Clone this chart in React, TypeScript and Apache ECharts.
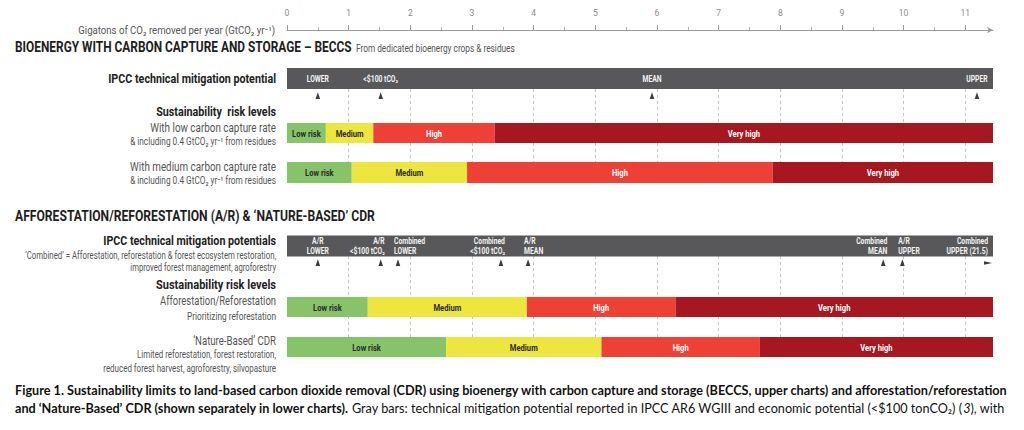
import React, { useEffect, useRef } from "react";
import * as echarts from "echarts";

// ---------------- DATA ----------------
const axisMax = 11.45; // GtCO2 / yr shown on the axis
const majorTicks = [0, 1, 2, 3, 4, 5, 6, 7, 8, 9, 10, 11];
const minorTicks = [0.5, 1.5, 2.5, 3.5, 4.5, 5.5, 6.5, 7.5, 8.5, 9.5, 10.5];

const riskLevels = ["Low risk", "Medium", "High", "Very high"];
// upper bound of Low / Medium / High (Very high runs to the end of the axis)
const beccsLowCapture = [0.63, 1.4, 3.37];
const beccsMediumCapture = [1.05, 2.92, 7.88];
const arReforestation = [1.31, 3.89, 6.3];
const natureBasedCdr = [2.58, 5.1, 7.67];

const beccsMarkerValues = [0.5, 1.52, 5.92, 11.19];
const beccsMarkerLabels = ["LOWER", "<$100 tCO₂", "MEAN", "UPPER"];
const beccsMarkerAlign = ["center", "center", "center", "center"];

const arMarkerValues = [0.5, 1.52, 1.8, 3.47, 3.91, 9.67, 9.98, 21.5];
const arMarkerLabels = [
  "A/R\nLOWER",
  "A/R\n<$100 tCO₂",
  "Combined\nLOWER",
  "Combined\n<$100 tCO₂",
  "A/R\nMEAN",
  "Combined\nMEAN",
  "A/R\nUPPER",
  "Combined\nUPPER (21.5)",
];
const arMarkerAlign = ["center", "right", "left", "right", "left", "right", "left", "right"];

// ---------------- STYLE / LAYOUT ----------------
const FONT = "Roboto";
const CAPTION_FONT = "Lato";
const riskColors = ["#87c469", "#ede63f", "#ef4036", "#a6171f"];
const riskTextColors = ["#2a2a2a", "#2a2a2a", "#ffffff", "#ffffff"];
const GRAY = "#58585a";

const X0 = 287;
const X1 = 993;
const grayBarTops = [68, 235.5];
const grayBarHeights = [21, 21];
const grayLabelY = [79, 246.5];
const markerYs = [96, 263];
const riskRowTops = [123, 162, 297, 337];
const riskRowHeights = [20, 21, 20, 20];

let measureCtx: CanvasRenderingContext2D | null = null;
function measure(text: string, size: number, weight: string, family: string, style = "normal") {
  if (!measureCtx) measureCtx = document.createElement("canvas").getContext("2d");
  const ctx = measureCtx!;
  ctx.font = `${style} ${weight} ${size}px ${family}`;
  return ctx.measureText(text).width;
}

function fitText(
  text: string,
  left: number,
  right: number,
  y: number,
  size: number,
  weight: string,
  color: string,
  align: "left" | "right"
) {
  const w = measure(text, size, weight, FONT);
  const s = (right - left) / w;
  return {
    type: "text",
    x: align === "right" ? right : left,
    y,
    scaleX: s,
    silent: true,
    style: {
      text,
      fill: color,
      fontSize: size,
      fontWeight: weight,
      fontFamily: FONT,
      align,
      textAlign: align,
      verticalAlign: "middle",
      textVerticalAlign: "middle",
    },
  };
}

function buildRows() {
  const rows = [beccsLowCapture, beccsMediumCapture, arReforestation, natureBasedCdr];
  const data: number[][] = [];
  rows.forEach((bounds, r) => {
    const edges = [0, ...bounds, axisMax];
    for (let i = 0; i < 4; i++) data.push([edges[i], edges[i + 1], r, i]);
  });
  return data;
}

export default function App() {
  const ref = useRef<HTMLDivElement>(null);
  useEffect(() => {
    if (!ref.current) return;
    const chart = echarts.init(ref.current, undefined, { renderer: "svg" });

    const hiddenAxis = (gi: number) => ({
      gridIndex: gi,
      type: "value",
      min: 0,
      max: axisMax,
      interval: 1,
      axisLine: { show: false, onZero: false },
      axisTick: { show: false },
      axisLabel: { show: false },
      splitLine: {
        show: true,
        showMinLine: false,
        showMaxLine: false,
        lineStyle: { type: [3, 3], color: "#c4c4c4", width: 1 },
      },
    });

    const markerGroups = [
      { values: beccsMarkerValues, labels: beccsMarkerLabels, align: beccsMarkerAlign },
      { values: arMarkerValues, labels: arMarkerLabels, align: arMarkerAlign },
    ];
    const markerData: number[][] = [];
    markerGroups.forEach((g, gi) => g.values.forEach((v, i) => markerData.push([v, 0, gi, i])));

    const leftTexts = [
      fitText("Gigatons of CO₂ removed per year (GtCO₂ yr⁻¹)", 78, 275, 30, 10, "normal", "#555", "right"),
      fitText("IPCC technical mitigation potential", 108, 276, 79, 12.5, "bold", "#222", "right"),
      fitText("Sustainability  risk levels", 156, 276, 112, 12.5, "bold", "#222", "right"),
      fitText("With low carbon capture rate", 150, 276, 128, 12.5, "normal", "#555", "right"),
      fitText("& including 0.4 GtCO₂ yr⁻¹ from residues", 130, 276, 142, 10, "normal", "#555", "right"),
      fitText("With medium carbon capture rate", 130, 276, 167, 12.5, "normal", "#555", "right"),
      fitText("& including 0.4 GtCO₂ yr⁻¹ from residues", 130, 276, 181, 10, "normal", "#555", "right"),
      fitText("IPCC technical mitigation potentials", 103, 276, 241, 12.5, "bold", "#222", "right"),
      fitText("‘Combined’ = Afforestation, reforestation & forest ecosystem restoration,", 25, 276, 256, 10, "normal", "#555", "right"),
      fitText("improved forest management, agroforestry", 130, 276, 268, 10, "normal", "#555", "right"),
      fitText("Sustainability risk levels", 156, 276, 285, 12.5, "bold", "#222", "right"),
      fitText("Afforestation/Reforestation", 160, 276, 301, 12.5, "normal", "#555", "right"),
      fitText("Prioritizing reforestation", 187, 276, 316, 10, "normal", "#555", "right"),
      fitText("‘Nature-Based’ CDR", 193, 276, 341, 12.5, "normal", "#555", "right"),
      fitText("Limited reforestation, forest restoration,", 137, 276, 355, 10, "normal", "#555", "right"),
      fitText("reduced forest harvest, agroforestry, silvopasture", 103, 276, 369, 10, "normal", "#555", "right"),
      fitText("BIOENERGY WITH CARBON CAPTURE AND STORAGE – BECCS", 15, 352, 47, 14, "bold", "#1e1e1e", "left"),
      fitText("From dedicated bioenergy crops & residues", 356, 515, 48, 10.5, "normal", "#555", "left"),
      fitText("AFFORESTATION/REFORESTATION (A/R) & ‘NATURE-BASED’ CDR", 15, 375, 216, 14, "bold", "#1e1e1e", "left"),
    ];

    // caption
    const capSize = 13;
    const cap1 =
      "Figure 1. Sustainability limits to land-based carbon dioxide removal (CDR) using bioenergy with carbon capture and storage (BECCS, upper charts) and afforestation/reforestation";
    const cap2b = "and ‘Nature-Based’ CDR (shown separately in lower charts).";
    const cap2r = " Gray bars: technical mitigation potential reported in IPCC AR6 WGIII and economic potential (<$100 tonCO₂) (";
    const cap2i = "3";
    const cap2e = "), with";
    const w1 = measure(cap1, capSize, "bold", CAPTION_FONT);
    const w2 =
      measure(cap2b, capSize, "bold", CAPTION_FONT) +
      measure(cap2r, capSize, "normal", CAPTION_FONT) +
      measure(cap2i, capSize, "normal", CAPTION_FONT, "italic") +
      measure(cap2e, capSize, "normal", CAPTION_FONT);
    const richStyles = {
      b: { fontFamily: CAPTION_FONT, fontSize: capSize, fontWeight: "bold", fill: "#111" },
      r: { fontFamily: CAPTION_FONT, fontSize: capSize, fontWeight: "normal", fill: "#111" },
      i: { fontFamily: CAPTION_FONT, fontSize: capSize, fontWeight: "normal", fontStyle: "italic", fill: "#111" },
    };
    const captions = [
      {
        type: "text",
        x: 15,
        y: 390,
        scaleX: (1009 - 15) / w1,
        silent: true,
        style: {
          text: `{b|${cap1}}`,
          rich: richStyles,
          align: "left",
          textAlign: "left",
          verticalAlign: "middle",
          textVerticalAlign: "middle",
        },
      },
      {
        type: "text",
        x: 15,
        y: 408,
        scaleX: (1005 - 15) / w2,
        silent: true,
        style: {
          text: `{b|${cap2b}}{r|${cap2r}}{i|${cap2i}}{r|${cap2e}}`,
          rich: richStyles,
          align: "left",
          textAlign: "left",
          verticalAlign: "middle",
          textVerticalAlign: "middle",
        },
      },
    ];

    const option: any = {
      animation: false,
      grid: [
        { left: X0, width: X1 - X0, top: 30, height: 330 },
        { left: X0, width: X1 - X0, top: 89, height: 94 },
        { left: X0, width: X1 - X0, top: 256, height: 101 },
      ],
      xAxis: [
        {
          gridIndex: 0,
          type: "value",
          min: 0,
          max: axisMax,
          interval: 1,
          position: "top",
          axisLine: {
            show: true,
            onZero: false,
            symbol: ["none", "arrow"],
            symbolSize: [5, 6],
            lineStyle: { color: "#9a9a9a", width: 1 },
          },
          axisTick: { show: true, length: 5, customValues: majorTicks, lineStyle: { color: "#9a9a9a" } },
          axisLabel: {
            show: true,
            customValues: majorTicks,
            margin: 13,
            color: "#8a8a8a",
            fontSize: 8.5,
            fontFamily: FONT,
          },
          splitLine: { show: false },
        },
        {
          gridIndex: 0,
          type: "value",
          min: 0,
          max: axisMax,
          position: "top",
          axisLine: { show: false, onZero: false },
          axisTick: { show: true, length: 3, customValues: minorTicks, lineStyle: { color: "#b0b0b0" } },
          axisLabel: { show: false },
          splitLine: { show: false },
        },
        hiddenAxis(1),
        hiddenAxis(2),
      ],
      yAxis: [0, 1, 2].map((gi) => ({ gridIndex: gi, type: "value", min: 0, max: 1, show: false })),
      series: [
        {
          type: "custom",
          name: "IPCC potential",
          xAxisIndex: 0,
          yAxisIndex: 0,
          clip: false,
          z: 5,
          data: [
            [0, axisMax, 0],
            [0, axisMax, 1],
          ],
          encode: { x: [0, 1] },
          renderItem: (params: any, api: any) => {
            const a = api.coord([api.value(0), 0])[0];
            const b = api.coord([api.value(1), 0])[0];
            const k = api.value(2);
            return {
              type: "rect",
              shape: { x: a, y: grayBarTops[k], width: b - a, height: grayBarHeights[k] },
              style: { fill: GRAY },
            };
          },
        },
        {
          type: "custom",
          name: "Risk levels",
          xAxisIndex: 0,
          yAxisIndex: 0,
          clip: false,
          z: 5,
          data: buildRows(),
          encode: { x: [0, 1] },
          renderItem: (params: any, api: any) => {
            const a = api.coord([api.value(0), 0])[0];
            const b = api.coord([api.value(1), 0])[0];
            const r = api.value(2);
            const lvl = api.value(3);
            const top = riskRowTops[r];
            const h = riskRowHeights[r];
            return {
              type: "group",
              children: [
                {
                  type: "rect",
                  shape: { x: a, y: top, width: b - a, height: h },
                  style: { fill: riskColors[lvl] },
                },
                {
                  type: "text",
                  x: (a + b) / 2,
                  y: top + h / 2 + 0.5,
                  scaleX: 0.8,
                  style: {
                    text: riskLevels[lvl],
                    fill: riskTextColors[lvl],
                    fontSize: 9.5,
                    fontWeight: "bold",
                    fontFamily: FONT,
                    align: "center",
                    textAlign: "center",
                    verticalAlign: "middle",
                    textVerticalAlign: "middle",
                  },
                },
              ],
            };
          },
        },
        {
          type: "custom",
          name: "Markers",
          xAxisIndex: 0,
          yAxisIndex: 0,
          clip: false,
          z: 6,
          data: markerData,
          encode: { x: 0 },
          renderItem: (params: any, api: any) => {
            const v = api.value(0);
            const g = api.value(2);
            const i = api.value(3);
            const group = markerGroups[g];
            const beyond = v > axisMax;
            const x = beyond ? api.coord([axisMax, 0])[0] - 5 : api.coord([v, 0])[0];
            const y = markerYs[g];
            const align = group.align[i];
            let tx = x;
            if (align === "right") tx = beyond ? x : x + 4;
            if (align === "left") tx = x - 4;
            const marker = beyond
              ? {
                  type: "polygon",
                  shape: { points: [[x + 4, y], [x - 4, y - 1.7], [x - 4, y + 1.7]] },
                  style: { fill: "#3c3c3c" },
                }
              : {
                  type: "polygon",
                  shape: { points: [[x, y - 3.8], [x - 2.3, y + 3], [x + 2.3, y + 3]] },
                  style: { fill: "#3c3c3c" },
                };
            return {
              type: "group",
              children: [
                marker,
                {
                  type: "text",
                  x: tx,
                  y: grayLabelY[g],
                  scaleX: 0.8,
                  style: {
                    text: group.labels[i],
                    fill: "#f2f2f2",
                    fontSize: 8.5,
                    lineHeight: 9.8,
                    fontWeight: "bold",
                    fontFamily: FONT,
                    align,
                    textAlign: align,
                    verticalAlign: "middle",
                    textVerticalAlign: "middle",
                  },
                },
              ],
            };
          },
        },
      ],
      graphic: [...leftTexts, ...captions],
    };

    chart.setOption(option);
    return () => chart.dispose();
  }, []);

  return (
    <div
      ref={ref}
      style={{ position: "fixed", left: 0, top: 0, width: 1024, height: 430, background: "#ffffff" }}
    />
  );
}
